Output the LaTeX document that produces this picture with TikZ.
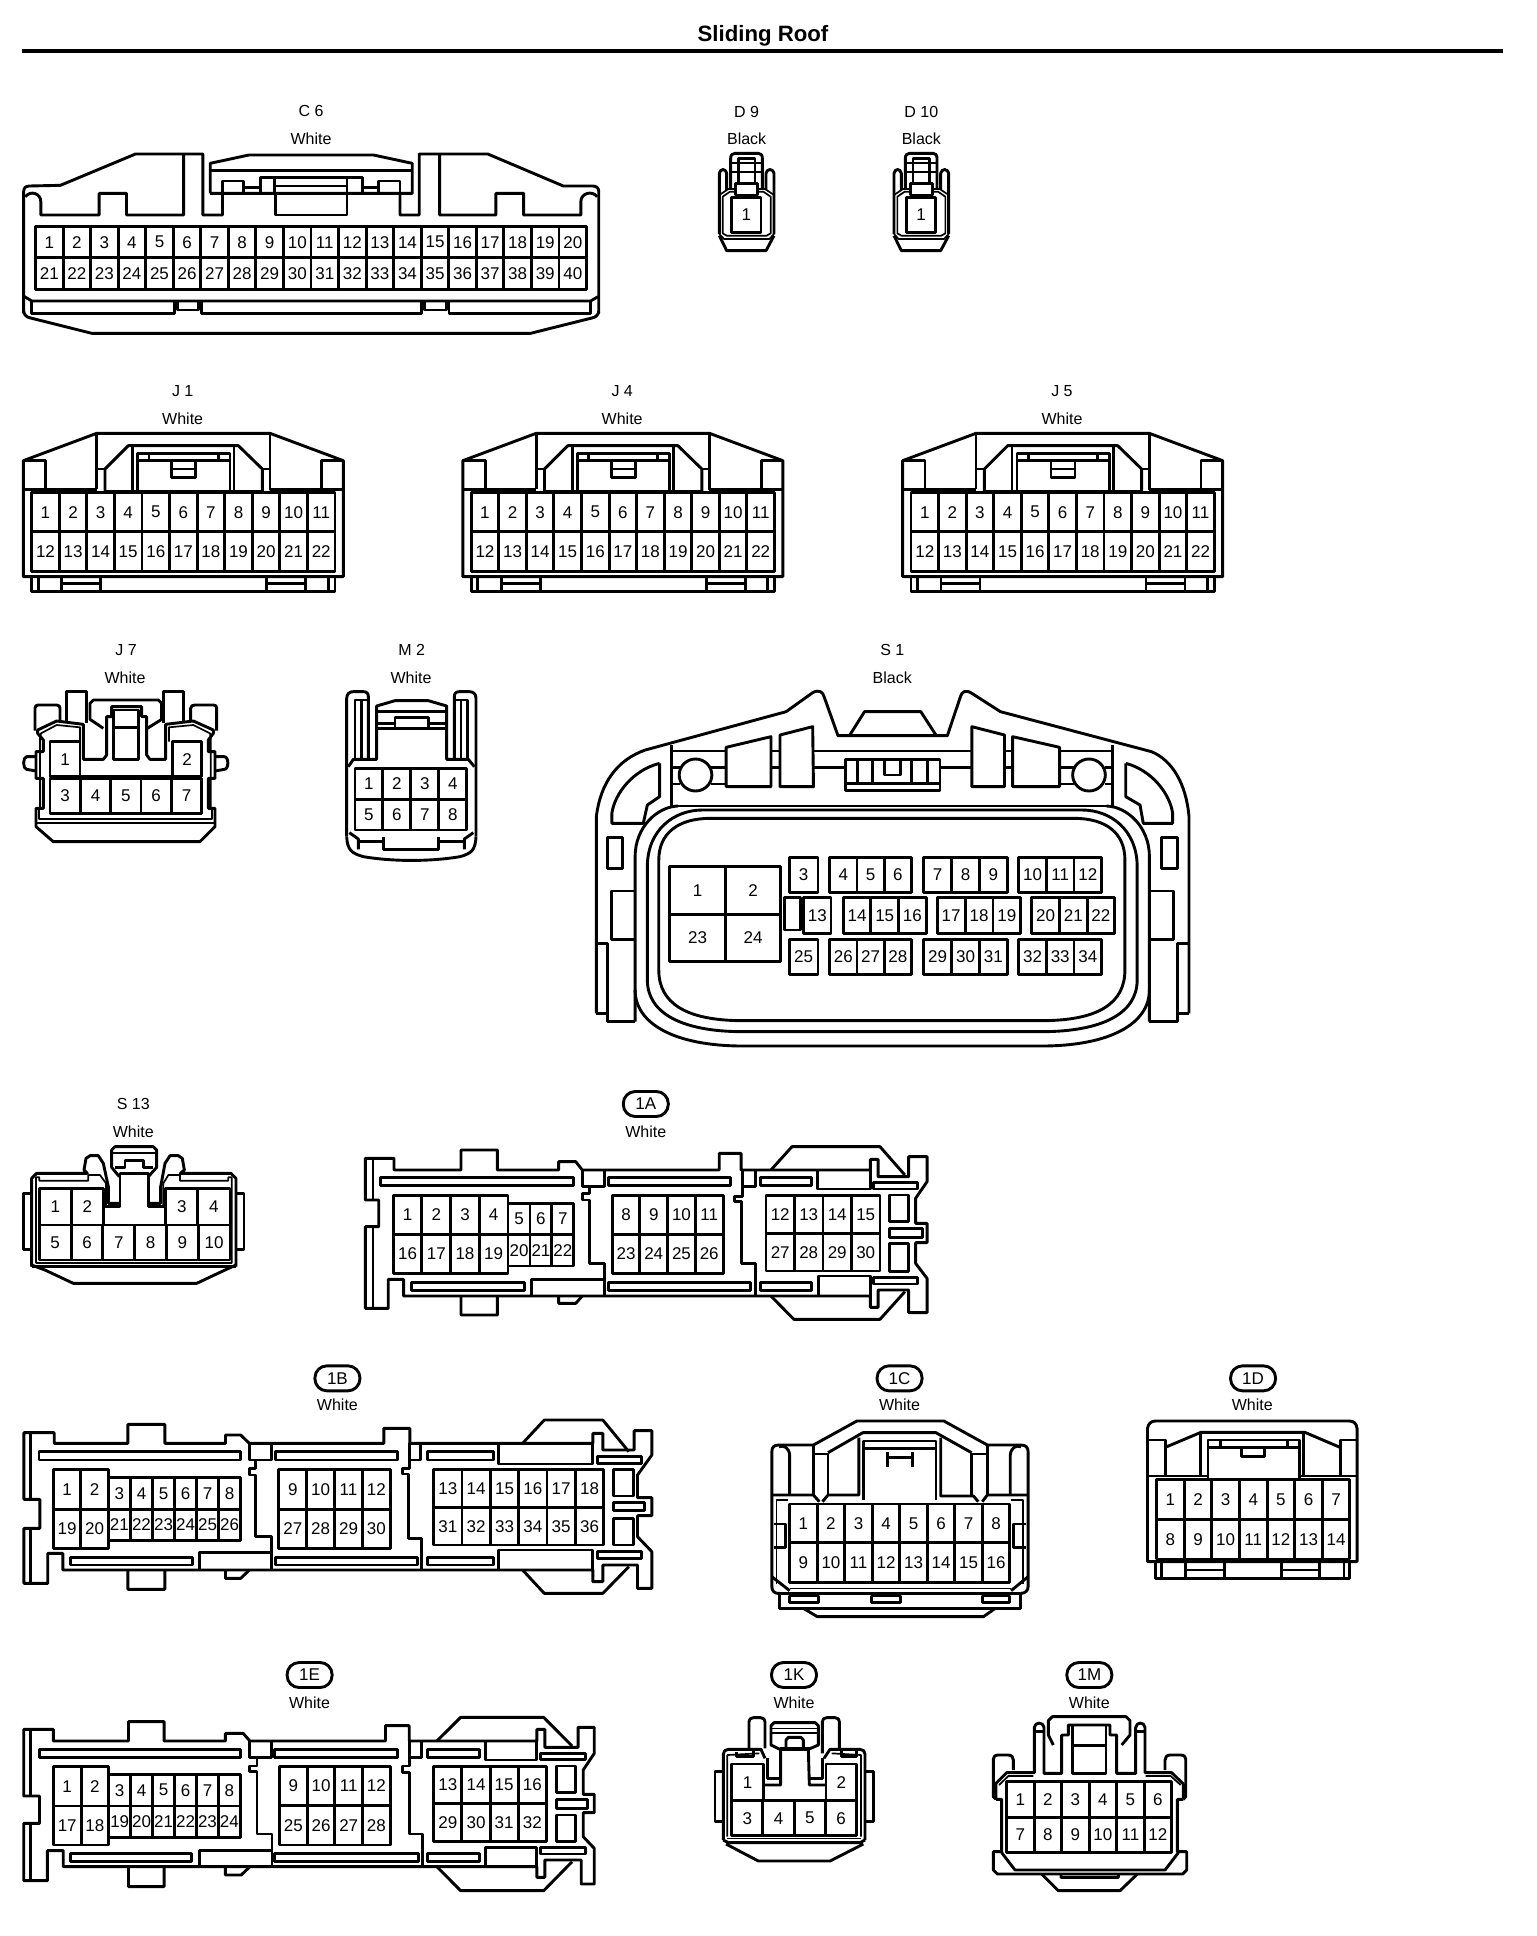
\documentclass[tikz,border=0pt]{standalone}
\usepackage{fontspec}
\setmainfont{Liberation Sans}
\newcounter{nodec}
\tikzset{
  x=0.5pt,y=-0.5pt,
  every path/.append style={line width=1.45pt,line join=round},
  zoomed/.style 2 args={shift={({(#1)*0.5pt},{-(#2)*0.5pt})},x=0.166667pt,y=-0.166667pt},
  zoomw/.style n args={3}{shift={({(#1)*0.5pt},{-(#2)*0.5pt})},x=#3pt,y=-0.166667pt},
  dbl/.style={line width=0.85pt},
  pinlabel/.style={font=\fontsize{8.5}{9}\selectfont,inner sep=0pt},
  clabel/.style={font=\fontsize{8}{9}\selectfont,inner sep=0pt},
  capsule/.style={draw,font=\fontsize{8.5}{9}\selectfont,inner sep=0pt,minimum width=22.5pt,minimum height=12.5pt,rounded corners=6pt,line width=1.45pt},
}
\newcommand\pinrow[6]{%
  \pgfmathsetmacro\pw{(#2-#1)/#5}%
  \foreach \k in {1,...,#5}{%
    \pgfmathsetmacro\xa{#1+(\k-1)*\pw}%
    \pgfmathsetmacro\xb{#1+\k*\pw}%
    \pgfmathtruncatemacro\lab{#6+\k-1}%
    \stepcounter{nodec}%
    \draw (\xa,#3) rectangle (\xb,#4);
    \node[pinlabel] (pin\arabic{nodec}) at ({(\xa+\xb)/2},{(#3+#4)/2}) {\lab};
  }%
}
\newcommand\txt[3]{\stepcounter{nodec}\node[clabel] (lab\arabic{nodec}) at (#1,#2) {#3};}
\newcommand\capl[3]{\stepcounter{nodec}\node[capsule] (cap\arabic{nodec}) at (#1,#2) {#3};}
\newcommand\slot[4]{\draw (#1,#2) rectangle (#3,#4);}
\newcommand\dconn[2]{%
\begin{scope}[zoomed={#1}{90}]
  \txt{200}{65}{#2}\txt{200}{147}{Black}
  \draw (152,295) -- (152,205) .. controls (152,195) and (157,190) .. (165,190) -- (235,190) .. controls (243,190) and (247,195) .. (247,205) -- (247,295);
  \draw (175,280) -- (175,205) -- (225,205) -- (225,280);
  \draw[dbl] (152,218) -- (247,218) (152,245) -- (247,245);
  \draw (140,300) -- (140,250) .. controls (138,235) and (120,235) .. (118,250) -- (118,432);
  \draw (258,300) -- (258,250) .. controls (260,235) and (280,235) .. (282,250) -- (282,432);
  \draw[dbl] (118,315) -- (145,297) -- (167,297) (233,297) -- (255,297) -- (282,315);
  \draw[dbl] (167,305) -- (150,305) -- (128,320) -- (128,430) -- (140,437) -- (260,437) -- (272,430) -- (272,320) -- (250,305) -- (233,305);
  \draw (167,280) rectangle (233,315);
  \draw[dbl] (118,432) -- (132,447) -- (268,447) -- (282,432);
  \draw (118,437) -- (140,482) -- (258,482) -- (282,437);
  \pinrow{155}{243}{323}{427}{1}{1}
\end{scope}}
\newcommand\jconn[2]{%
\begin{scope}[zoomed={#1}{380}]
  \txt{548}{33}{#2}\txt{548}{116}{White}
  \draw (70,590) -- (70,242) -- (290,160) -- (810,160) -- (1030,242) -- (1030,590) -- cycle;
  \draw (70,242) -- (137,242) -- (137,328) (1030,242) -- (965,242) -- (965,328);
  \draw (70,328) -- (290,328) (290,165) -- (290,328) (290,267) -- (315,267) (810,165) -- (810,328) -- (1030,328) (787,267) -- (810,267);
  \draw (315,335) -- (315,267) -- (385,197) -- (715,197) -- (787,267) -- (787,335);
  \draw (398,197) -- (398,330) (702,197) -- (702,330);
  \draw (413,335) -- (413,220) -- (690,220) -- (690,335) (315,335) -- (787,335);
  \draw (413,242) -- (690,242) (447,220) -- (447,242) (655,220) -- (655,242);
  \draw (515,242) -- (515,292) -- (587,292) -- (587,242) (515,267) -- (587,267);
  \pinrow{95}{1005}{338}{455}{11}{1}
  \pinrow{95}{1005}{455}{575}{11}{12}
  \draw (95,590) rectangle (1005,635);
  \draw (115,590) -- (115,635) (185,590) -- (185,635) (302,590) -- (302,635) (800,590) -- (800,635) (917,590) -- (917,635) (985,590) -- (985,635);
  \draw (185,610) -- (302,610) (800,610) -- (917,610);
\end{scope}}
\begin{document}
\begin{tikzpicture}
\useasboundingbox (0,0) rectangle (1536,1936);
\fill[white] (0,0) rectangle (1536,1936);
\node[font=\bfseries\fontsize{11.1}{12}\selectfont,inner sep=0pt] (title) at (763,36) {Sliding Roof};
\draw[line width=1.9pt] (22,51) -- (1503,51);

% C6
\begin{scope}[zoomw={0}{80}{0.20408}]
  \txt{762}{93}{C 6}\txt{762}{177}{White}
  \draw (58,700) -- (58,335) .. controls (58,325) and (62,318) .. (72,318) -- (148,316) -- (332,222) -- (497,222) -- (497,405) -- (545,405) -- (545,340);
  \draw (980,340) -- (980,405) -- (1027,405) -- (1027,222) -- (1195,222) -- (1380,318) -- (1452,318) .. controls (1462,318) and (1467,325) .. (1467,335) -- (1467,700);
  \draw (515,340) -- (515,250) -- (610,225) -- (915,225) -- (1010,250) -- (1010,340) -- (515,340);
  \draw (515,272) -- (1010,272);
  \draw (545,303) rectangle (597,340) (928,303) rectangle (980,340);
  \draw (638,340) -- (638,292) -- (888,292) -- (888,340) (672,292) -- (672,340) (850,292) -- (850,340);
  \draw (672,318) -- (850,318) (597,322) -- (638,322) (888,322) -- (928,322);
  \draw (675,340) -- (675,405) -- (850,405) -- (850,340);
  \draw (450,222) -- (450,405) -- (310,405) -- (310,340) -- (243,340) -- (243,405) -- (100,405) -- (100,365) .. controls (100,340) and (75,330) .. (62,350);
  \draw (1077,222) -- (1077,405) -- (1215,405) -- (1215,340) -- (1283,340) -- (1283,405) -- (1423,405) -- (1423,365) .. controls (1423,340) and (1450,330) .. (1463,350);
  \pinrow{87}{1437}{440}{533}{20}{1}
  \pinrow{87}{1437}{533}{628}{20}{21}
  \draw (60,650) -- (78,663) -- (1447,663) -- (1465,650);
  \draw (78,663) -- (78,700) -- (427,700) -- (427,663) (493,663) -- (493,700) -- (1033,700) -- (1033,663) (1100,663) -- (1100,700) -- (1447,700) -- (1447,663);
  \draw (435,663) -- (435,690) -- (487,690) -- (487,663) (1040,663) -- (1040,690) -- (1093,690) -- (1093,663);
  \draw (58,695) .. controls (60,705) and (65,712) .. (75,714) -- (225,760) -- (1300,760) -- (1450,714) .. controls (1460,712) and (1465,705) .. (1467,695);
\end{scope}

\dconn{680}{D 9}
\dconn{854.67}{D 10}

\jconn{0}{J 1}
\jconn{439.5}{J 4}
\jconn{879.3}{J 5}

% J7 and M2
\begin{scope}[zoomed={0}{640}]
  \txt{378}{30}{J 7}\txt{375}{113}{White}
  \txt{1235}{30}{M 2}\txt{1233}{113}{White}
  \pinrow{150}{240}{305}{410}{1}{1}
  \pinrow{517}{605}{305}{410}{1}{2}
  \pinrow{150}{605}{415}{520}{5}{3}
  \draw (240,410) -- (517,410);
  \draw (108,505) -- (130,505) -- (130,415) -- (108,415) -- (108,335) -- (130,335) -- (130,300) -- (113,280) -- (113,270) -- (170,243) -- (250,253) -- (250,358) -- (310,358) -- (320,345) -- (320,230) -- (335,230) -- (335,200) -- (425,200) -- (425,230) -- (440,230) -- (440,345) -- (450,358) -- (497,358) -- (497,253) -- (580,243) -- (640,270) -- (640,280) -- (625,300) -- (625,335) -- (645,335) -- (645,415) -- (625,415) -- (625,505) -- (645,505) -- (645,560) -- (600,605) -- (160,605) -- (108,560) -- cycle;
  \draw[dbl] (120,505) -- (120,295) -- (123,280) -- (170,255) -- (240,262) -- (240,305);
  \draw[dbl] (632,505) -- (632,295) -- (630,280) -- (580,255) -- (507,262) -- (507,305);
  \draw (340,358) rectangle (415,210) (340,262) -- (415,262);
  \draw[dbl] (108,548) -- (645,548) (118,505) -- (118,538) -- (635,538) -- (635,505);
  \draw (108,350) -- (80,350) .. controls (68,350) and (68,388) .. (80,388) -- (108,393);
  \draw (645,350) -- (673,350) .. controls (687,350) and (687,388) .. (673,388) -- (645,393);
  \draw (200,243) -- (200,155) -- (260,155) -- (260,250) (490,250) -- (490,155) -- (550,155) -- (550,243);
  \draw (105,272) -- (105,205) .. controls (105,198) and (108,195) .. (115,195) -- (170,195) .. controls (178,195) and (180,200) .. (180,205) -- (180,243);
  \draw (572,243) -- (572,205) .. controls (572,198) and (578,195) .. (585,195) -- (640,195) .. controls (647,195) and (650,198) .. (650,205) -- (650,272);
  \draw (310,265) -- (270,238) -- (270,190) -- (280,180) -- (475,180) -- (485,190) -- (485,238) -- (442,265);
  % M2
  \pinrow{1065}{1400}{385}{478}{4}{1}
  \pinrow{1065}{1400}{478}{570}{4}{5}
  \draw (1040,590) -- (1040,175) .. controls (1040,160) and (1050,155) .. (1060,155) -- (1090,155) .. controls (1100,155) and (1105,160) .. (1105,170) -- (1105,358);
  \draw (1428,590) -- (1428,175) .. controls (1428,160) and (1418,155) .. (1408,155) -- (1378,155) .. controls (1368,155) and (1363,160) .. (1363,170) -- (1363,358);
  \draw (1065,360) -- (1065,180) -- (1105,180) (1085,180) -- (1085,358) (1403,360) -- (1403,180) -- (1363,180) (1383,180) -- (1383,358);
  \draw (1045,380) -- (1060,358) -- (1130,358) -- (1130,198) -- (1185,182) -- (1285,182) -- (1340,198) -- (1340,358) -- (1405,358) -- (1423,380);
  \draw (1130,215) -- (1340,215) (1185,232) rectangle (1285,265);
  \draw (1130,250) -- (1185,250) (1130,265) -- (1185,265) (1285,250) -- (1340,250) (1285,265) -- (1340,265);
  \draw (1040,590) .. controls (1042,630) and (1055,640) .. (1090,650) .. controls (1180,665) and (1290,665) .. (1380,650) .. controls (1415,640) and (1426,630) .. (1428,590);
  \draw (1048,578) -- (1075,597) -- (1075,628) (1420,578) -- (1393,597) -- (1393,628);
  \draw (1075,605) -- (1150,605) (1150,590) -- (1150,628) -- (1315,628) -- (1315,590) (1315,605) -- (1393,605);
\end{scope}

% S1
\begin{scope}[zoomw={580}{670}{0.20408}]
  \txt{765}{-60}{S 1}\txt{765}{22}{Black}
  \draw (40,1030) -- (40,440) .. controls (50,340) and (90,270) .. (160,240) -- (505,125) -- (570,68) .. controls (585,58) and (595,65) .. (598,80) -- (632,197) -- (900,197) -- (932,80) .. controls (935,65) and (945,58) .. (960,70) -- (1030,125) -- (1400,245) .. controls (1450,270) and (1485,340) .. (1492,440) -- (1492,1030);
  \draw (660,197) -- (697,125) -- (835,125) -- (873,197);
  \draw (225,225) -- (225,408) -- (1305,408) -- (1305,225);
  \draw (225,243) -- (358,243) (468,243) -- (490,243) (572,243) -- (960,243) (1040,243) -- (1060,243) (1175,243) -- (1305,243);
  \draw (225,292) -- (245,292) (322,292) -- (358,292) (468,292) -- (490,292) (572,292) -- (650,292) (882,292) -- (960,292) (1040,292) -- (1060,292) (1175,292) -- (1210,292) (1285,292) -- (1305,292);
  \draw (225,342) -- (245,342) (322,342) -- (358,342) (1175,342) -- (1210,342) (1285,342) -- (1305,342);
  \draw (283,315) ellipse [x radius=40,y radius=48] (1247,315) ellipse [x radius=40,y radius=48];
  \draw (358,232) -- (468,200) -- (468,350) -- (358,350) -- cycle;
  \draw (490,195) -- (570,170) -- (572,350) -- (490,350) -- cycle;
  \draw (960,170) -- (1040,195) -- (1040,350) -- (960,350) -- cycle;
  \draw (1060,200) -- (1175,232) -- (1175,350) -- (1060,350) -- cycle;
  \draw (650,268) rectangle (882,362) (650,340) -- (882,340);
  \draw (680,268) -- (680,340) (717,268) -- (717,340) (812,268) -- (812,340) (852,268) -- (852,340);
  \draw (745,268) -- (745,315) -- (785,315) -- (785,268);
  \draw (195,280) -- (195,380) -- (165,405) -- (155,460) -- (78,460) -- (78,430) .. controls (85,370) and (130,300) .. (195,280);
  \draw (1337,280) -- (1337,380) -- (1372,405) -- (1380,460) -- (1452,460) -- (1452,430) .. controls (1445,370) and (1400,300) .. (1337,280);
  \draw (68,503) rectangle (105,595) (1425,503) rectangle (1463,595);
  \draw (135,663) -- (78,663) -- (78,808) -- (135,808);
  \draw (40,820) -- (68,820) -- (68,1055) -- (135,1055) (40,1030) -- (68,1030);
  \draw (1395,663) -- (1455,663) -- (1455,808) -- (1395,808);
  \draw (1492,820) -- (1463,820) -- (1463,1055) -- (1395,1055) (1463,1030) -- (1492,1030);
  \draw (135,1055) -- (135,560) .. controls (135,470) and (190,410) .. (240,408);
  \draw (1395,1055) -- (1395,560) .. controls (1395,470) and (1340,410) .. (1290,408);
  \draw (135,960) .. controls (135,1060) and (230,1128) .. (400,1128) -- (1130,1128) .. controls (1300,1128) and (1395,1060) .. (1395,960);
  \draw (165,590) .. controls (165,480) and (230,420) .. (300,420) -- (1230,420) .. controls (1300,420) and (1365,480) .. (1365,590) -- (1365,930) .. controls (1365,1030) and (1280,1085) .. (1130,1085) -- (400,1085) .. controls (250,1085) and (165,1030) .. (165,930) -- cycle;
  \draw (193,570) .. controls (193,490) and (240,445) .. (320,445) -- (1210,445) .. controls (1290,445) and (1335,490) .. (1335,570) -- (1335,900) .. controls (1335,1000) and (1270,1052) .. (1130,1052) -- (400,1052) .. controls (260,1052) and (193,1000) .. (193,900) -- cycle;
  \pinrow{220}{492}{590}{733}{2}{1}
  \pinrow{220}{492}{733}{875}{2}{23}
  \pinrow{513}{583}{562}{667}{1}{3}
  \pinrow{612}{812}{562}{667}{3}{4}
  \pinrow{842}{1047}{562}{667}{3}{7}
  \pinrow{1075}{1278}{562}{667}{3}{10}
  \draw (500,682) rectangle (540,780);
  \pinrow{548}{615}{682}{790}{1}{13}
  \pinrow{645}{848}{682}{790}{3}{14}
  \pinrow{875}{1080}{682}{790}{3}{17}
  \pinrow{1107}{1310}{682}{790}{3}{20}
  \pinrow{513}{583}{808}{913}{1}{25}
  \pinrow{612}{812}{808}{913}{3}{26}
  \pinrow{842}{1047}{808}{913}{3}{29}
  \pinrow{1075}{1278}{808}{913}{3}{32}
\end{scope}

% S13
\begin{scope}[zoomed={0}{1090}]
  \txt{400}{42}{S 13}\txt{400}{124}{White}
  \pinrow{118}{310}{295}{405}{2}{1}
  \pinrow{497}{690}{295}{405}{2}{3}
  \pinrow{118}{690}{405}{510}{6}{5}
  \draw (310,350) -- (360,350) -- (360,250) -- (445,250) -- (445,350) -- (497,350);
  \draw (95,530) -- (95,265) -- (110,250) -- (262,250) -- (252,240) -- (258,205) -- (270,197) -- (295,197) -- (310,220) -- (325,290) -- (325,340) -- (358,340);
  \draw (708,530) -- (708,265) -- (693,250) -- (541,250) -- (553,240) -- (547,205) -- (535,197) -- (510,197) -- (495,220) -- (482,290) -- (482,340) -- (447,340);
  \draw[dbl] (108,520) -- (108,262) -- (118,262) -- (118,272) -- (265,272) -- (265,255) -- (300,255) -- (318,280) -- (318,345);
  \draw[dbl] (695,520) -- (695,262) -- (685,262) -- (685,272) -- (540,272) -- (540,255) -- (505,255) -- (490,280) -- (490,345);
  \draw (358,260) -- (335,232) -- (335,180) -- (345,170) -- (460,170) -- (470,180) -- (470,232) -- (445,260);
  \draw[dbl] (335,190) -- (470,190);
  \draw (345,232) -- (375,232) -- (375,212) -- (430,212) -- (430,232) -- (460,232);
  \draw[dbl] (108,518) -- (695,518);
  \draw (95,530) -- (708,530);
  \draw (95,525) -- (135,540) -- (220,580) -- (590,580) -- (675,540) -- (708,525);
  \draw (95,310) -- (70,310) -- (70,478) -- (95,478) (708,310) -- (732,310) -- (732,478) -- (708,478);
\end{scope}

% 1A
\begin{scope}[zoomw={350}{1090}{0.19133}]
  \capl{773}{42}{1A}\txt{773}{125}{White}
  \draw (40,205) -- (115,205) -- (115,240) -- (290,240) -- (290,180) -- (385,180) -- (385,240) -- (545,240) -- (545,215) -- (590,215) -- (607,240) -- (965,240) -- (965,190) -- (1022,190) -- (1022,240) -- (1360,240) -- (1360,208) -- (1380,208) -- (1380,260) -- (1460,260) -- (1460,200) -- (1508,200) -- (1508,275) -- (1478,325) -- (1478,400) -- (1508,400) -- (1508,458) -- (1478,458) -- (1478,520) -- (1508,565) -- (1508,668) -- (1460,668) -- (1460,600) -- (1380,600) -- (1380,652) -- (1360,652) -- (1360,618) -- (140,618) -- (140,568) -- (100,568) -- (100,655) -- (40,655) -- (40,410) -- (75,410) -- (75,330) -- (40,330) -- cycle;
  \draw (60,205) -- (60,330) (60,410) -- (60,655);
  \draw (1100,240) -- (1155,170) -- (1385,170) -- (1450,255) (1100,618) -- (1160,688) -- (1385,688) -- (1450,605);
  \draw (290,618) -- (290,675) -- (385,675) -- (385,618) (545,618) -- (545,640) -- (590,640) -- (607,618);
  \slot{80}{263}{585}{287}\slot{675}{263}{995}{287}\slot{1072}{263}{1205}{287}
  \slot{160}{578}{455}{602}\slot{675}{578}{1047}{602}\slot{1072}{578}{1205}{602}
  \slot{1368}{278}{1483}{297}\slot{1368}{563}{1483}{582}
  \draw (607,240) -- (607,290) -- (665,290) -- (665,240) (625,290) -- (625,310) -- (607,310) -- (607,330) -- (625,330) -- (625,520) -- (665,520) -- (665,618);
  \draw (1025,240) -- (1025,290) -- (1060,290) -- (1060,240) (1025,290) -- (1025,320) -- (1005,320) -- (1005,335) -- (1022,335) -- (1022,520) -- (1060,520) -- (1060,618);
  \draw (475,618) -- (475,568) -- (665,568);
  \draw (1222,240) -- (1222,297) -- (1360,297) -- (1360,240) (1225,618) -- (1225,558) -- (1360,558) -- (1360,618);
  \slot{1410}{315}{1460}{395}\slot{1410}{460}{1460}{545}\slot{1410}{415}{1495}{442}
  \pinrow{113}{413}{317}{433}{4}{1}
  \pinrow{113}{413}{433}{550}{4}{16}
  \pinrow{413}{585}{340}{433}{3}{5}
  \pinrow{413}{585}{433}{528}{3}{20}
  \pinrow{685}{975}{317}{433}{4}{8}
  \pinrow{685}{975}{433}{550}{4}{23}
  \pinrow{1087}{1385}{317}{430}{4}{12}
  \pinrow{1087}{1385}{430}{543}{4}{27}
\end{scope}

% 1B
\begin{scope}[zoomw={0}{1370}{0.21684}]
  \capl{778}{25}{1B}\txt{778}{105}{White}
  \draw (55,188) -- (125,188) -- (125,220) -- (295,220) -- (295,163) -- (380,163) -- (380,220) -- (520,220) -- (520,195) -- (555,195) -- (575,220) -- (885,220) -- (885,175) -- (945,175) -- (945,220) -- (1367,220) -- (1367,190) -- (1390,190) -- (1390,240) -- (1462,240) -- (1462,182) -- (1503,182) -- (1503,255) -- (1470,315) -- (1470,383) -- (1503,383) -- (1503,437) -- (1470,437) -- (1470,500) -- (1503,545) -- (1503,655) -- (1470,655) -- (1470,585) -- (1390,585) -- (1390,635) -- (1367,635) -- (1367,600) -- (145,600) -- (145,550) -- (110,550) -- (110,640) -- (55,640) -- (55,475) -- (92,475) -- (92,388) -- (55,388) -- cycle;
  \draw (70,188) -- (70,388) (70,475) -- (70,640);
  \draw (1205,220) -- (1255,150) -- (1390,150) -- (1450,245) (1205,600) -- (1255,670) -- (1390,670) -- (1450,590);
  \draw (295,600) -- (295,658) -- (380,658) -- (380,600) (520,600) -- (520,625) -- (555,625) -- (575,600);
  \slot{90}{245}{555}{270}\slot{635}{245}{917}{270}\slot{985}{245}{1138}{270}
  \slot{163}{562}{443}{585}\slot{635}{562}{963}{585}\slot{985}{562}{1138}{585}
  \slot{1378}{260}{1480}{280}\slot{1378}{545}{1480}{565}
  \draw (575,220) -- (575,270) -- (625,270) -- (625,220) (590,270) -- (590,295) -- (575,295) -- (575,315) -- (590,315) -- (590,500) -- (625,500) -- (625,600);
  \draw (945,220) -- (945,270) -- (970,270) -- (970,220) (945,270) -- (945,295) -- (928,295) -- (928,312) -- (942,312) -- (942,505) -- (972,505) -- (972,600);
  \draw (460,600) -- (460,548) -- (625,548);
  \draw (1150,220) -- (1150,282) -- (1367,282) -- (1367,220) (1150,600) -- (1150,540) -- (1367,540) -- (1367,600);
  \slot{1415}{298}{1460}{378}\slot{1415}{445}{1460}{525}\slot{1415}{398}{1487}{422}
  \pinrow{123}{250}{298}{418}{2}{1}
  \pinrow{123}{250}{418}{535}{2}{19}
  \pinrow{250}{555}{323}{418}{6}{3}
  \pinrow{250}{555}{418}{512}{6}{21}
  \pinrow{643}{900}{298}{418}{4}{9}
  \pinrow{643}{900}{418}{535}{4}{27}
  \pinrow{1000}{1392}{298}{412}{6}{13}
  \pinrow{1000}{1392}{412}{525}{6}{31}
\end{scope}

% 1E
\begin{scope}[zoomw={0}{1660}{0.19770}]
  \capl{783}{45}{1E}\txt{783}{127}{White}
  \draw (60,208) -- (135,208) -- (135,243) -- (325,243) -- (325,185) -- (415,185) -- (415,243) -- (570,243) -- (570,220) -- (615,220) -- (632,243) -- (975,243) -- (975,197) -- (1035,197) -- (1035,243) -- (1358,243) -- (1358,208) -- (1378,208) -- (1378,262) -- (1462,262) -- (1462,202) -- (1503,202) -- (1503,280) -- (1475,330) -- (1475,403) -- (1503,403) -- (1503,458) -- (1475,458) -- (1475,530) -- (1503,565) -- (1503,672) -- (1470,672) -- (1470,600) -- (1378,600) -- (1378,652) -- (1358,652) -- (1358,620) -- (160,620) -- (160,572) -- (120,572) -- (120,662) -- (60,662) -- (60,490) -- (100,490) -- (100,408) -- (60,408) -- cycle;
  \draw (78,208) -- (78,408) (78,490) -- (78,662);
  \draw (1105,243) -- (1165,172) -- (1375,172) -- (1447,258) (1105,620) -- (1165,692) -- (1375,692) -- (1447,605);
  \draw (325,620) -- (325,680) -- (415,680) -- (415,620) (570,620) -- (570,645) -- (610,645) -- (632,620);
  \slot{100}{268}{608}{292}\slot{695}{268}{1005}{292}\slot{1082}{268}{1212}{292}
  \slot{178}{580}{485}{604}\slot{695}{580}{1058}{604}\slot{1082}{580}{1212}{604}
  \slot{1367}{280}{1480}{298}\slot{1367}{563}{1480}{582}
  \draw (632,243) -- (632,292) -- (687,292) -- (687,243) (650,292) -- (650,318) -- (632,318) -- (632,335) -- (650,335) -- (650,522) -- (688,522) -- (688,620);
  \draw (1035,243) -- (1035,292) -- (1065,292) -- (1065,243) (1035,292) -- (1035,318) -- (1017,318) -- (1017,337) -- (1035,337) -- (1035,522) -- (1068,522) -- (1068,620);
  \draw (505,620) -- (505,572) -- (688,572);
  \draw (1228,243) -- (1228,300) -- (1358,300) -- (1358,243) (1228,620) -- (1228,562) -- (1358,562) -- (1358,620);
  \slot{1408}{318}{1455}{398}\slot{1408}{465}{1455}{545}\slot{1408}{418}{1487}{445}
  \pinrow{135}{275}{320}{438}{2}{1}
  \pinrow{135}{275}{438}{555}{2}{17}
  \pinrow{275}{608}{343}{438}{6}{3}
  \pinrow{275}{608}{438}{532}{6}{19}
  \pinrow{707}{987}{320}{436}{4}{9}
  \pinrow{707}{987}{436}{555}{4}{25}
  \pinrow{1097}{1382}{320}{430}{4}{13}
  \pinrow{1097}{1382}{430}{545}{4}{29}
\end{scope}

% 1C 1D
\begin{scope}[zoomw={760}{1360}{0.19770}]
  \capl{353}{55}{1C}\txt{353}{135}{White}
  \capl{1247}{55}{1D}\txt{1245}{135}{White}
  \draw (50,700) -- (45,700) .. controls (35,700) and (30,690) .. (30,680) -- (30,275) .. controls (30,262) and (35,255) .. (47,255) -- (135,255) -- (245,183) -- (465,183) -- (575,255) -- (660,255) .. controls (672,255) and (678,262) .. (678,275) -- (678,680) .. controls (678,690) and (672,700) .. (660,700);
  \draw (50,700) rectangle (658,745);
  \draw[dbl] (75,685) -- (635,685);
  \draw (110,745) -- (145,770) -- (565,770) -- (595,745);
  \slot{75}{708}{147}{728}\slot{283}{708}{355}{728}\slot{562}{708}{632}{728}
  \draw (75,405) -- (75,285) .. controls (73,262) and (60,255) .. (48,260) (633,405) -- (633,285) .. controls (635,262) and (648,255) .. (660,260);
  \draw (135,255) -- (135,405) (575,255) -- (575,405);
  \draw (135,282) -- (172,282) -- (172,405) (535,405) -- (535,282) -- (575,282);
  \draw (172,278) -- (260,218) -- (445,218) -- (535,278);
  \draw (250,233) -- (250,405) -- (172,405) -- (158,425) (457,233) -- (457,408) -- (540,408) -- (552,425);
  \draw (262,420) -- (262,243) -- (445,243) -- (445,420) (262,265) -- (445,265);
  \draw (322,275) -- (322,320) (385,275) -- (385,320) (322,293) -- (385,293);
  \draw (30,405) -- (135,405) -- (150,425) (678,405) -- (575,405) -- (562,425);
  \draw[dbl] (42,672) -- (42,420) -- (72,420) (665,672) -- (665,420) -- (635,420);
  \draw (35,492) -- (65,492) -- (65,562) -- (35,562) (672,492) -- (642,492) -- (642,562) -- (672,562);
  \draw (30,650) -- (75,692) (678,650) -- (635,692);
  \pinrow{75}{632}{432}{548}{8}{1}
  \pinrow{75}{632}{548}{668}{8}{9}
  % 1D
  \draw (980,605) -- (980,205) .. controls (982,190) and (990,183) .. (1000,183) -- (1490,183) .. controls (1502,183) and (1508,190) .. (1510,205) -- (1510,605) -- cycle;
  \draw (980,240) -- (1025,240) -- (1025,348) (1510,240) -- (1467,240) -- (1467,348);
  \draw (1025,262) -- (1115,217) -- (1378,217) -- (1467,262);
  \draw (980,348) -- (1133,348) (1365,348) -- (1510,348) (1115,217) -- (1115,348) (1375,217) -- (1375,348);
  \draw (1133,355) -- (1133,240) -- (1365,240) -- (1365,355) (1133,262) -- (1365,262) (1165,240) -- (1165,262) (1335,240) -- (1335,262);
  \draw (1217,262) -- (1217,290) -- (1277,290) -- (1277,262);
  \pinrow{1003}{1492}{358}{478}{7}{1}
  \pinrow{1003}{1492}{478}{597}{7}{8}
  \draw (1000,605) rectangle (1492,655);
  \draw (1015,605) -- (1015,655) (1075,605) -- (1075,655) (1175,605) -- (1175,655) (1318,605) -- (1318,655) (1415,605) -- (1415,655) (1477,605) -- (1477,655);
  \draw (1075,630) -- (1175,630) (1318,630) -- (1415,630);
\end{scope}

% 1K 1M
\begin{scope}[zoomed={700}{1660}]
  \capl{282}{45}{1K}\txt{282}{127}{White}
  \capl{1168}{45}{1M}\txt{1168}{127}{White}
  \pinrow{95}{190}{312}{422}{1}{1}
  \pinrow{378}{470}{312}{422}{1}{2}
  \pinrow{95}{470}{422}{527}{4}{3}
  \draw (70,540) -- (70,282) .. controls (70,274) and (76,268) .. (85,268) -- (183,268) -- (195,295) (495,540) -- (495,282) .. controls (495,274) and (489,268) .. (480,268) -- (390,268) -- (372,295);
  \draw[dbl] (82,530) -- (82,285) -- (178,280) (483,530) -- (483,285) -- (395,280);
  \draw[dbl] (82,535) -- (483,535);
  \draw (70,540) -- (85,548) -- (480,548) -- (495,540);
  \draw (78,552) -- (175,603) -- (390,603) -- (490,552);
  \draw (110,275) -- (110,290) -- (160,290) -- (160,270) (425,270) -- (425,290) -- (470,290) -- (470,270);
  \draw (190,375) -- (242,375) -- (242,268) -- (325,268) -- (328,375) -- (378,375);
  \draw (203,295) -- (203,355) -- (240,355) (330,355) -- (368,355) -- (368,295);
  \draw (147,265) -- (147,185) .. controls (147,178) and (152,173) .. (160,173) -- (182,173) .. controls (190,173) and (195,178) .. (195,185) -- (195,265);
  \draw (367,280) -- (367,185) .. controls (367,178) and (372,173) .. (380,173) -- (405,173) .. controls (414,173) and (418,178) .. (418,185) -- (418,265);
  \draw (240,268) -- (213,255) -- (213,197) -- (222,188) -- (346,188) -- (355,197) -- (355,255) -- (325,268);
  \draw[dbl] (213,205) -- (355,205) (213,218) -- (355,218);
  \draw (258,262) -- (258,240) -- (265,232) -- (303,232) -- (310,240) -- (310,262);
  \draw[dbl] (240,262) -- (330,262);
  \draw (70,335) -- (45,335) -- (45,485) -- (70,485) (495,335) -- (520,335) -- (520,485) -- (495,485);
  % 1M
  \pinrow{920}{1415}{365}{472}{6}{1}
  \pinrow{920}{1415}{472}{578}{6}{7}
  \draw (888,418) -- (880,410) -- (880,297) .. controls (880,290) and (885,285) .. (895,285) -- (925,285) .. controls (935,285) and (940,292) .. (940,300) -- (940,330);
  \draw (1450,418) -- (1457,410) -- (1457,297) .. controls (1457,290) and (1452,285) .. (1442,285) -- (1410,285) .. controls (1400,285) and (1395,292) .. (1395,300) -- (1395,330);
  \draw (888,418) -- (888,370) -- (920,338) -- (1003,338) -- (1003,202) .. controls (1005,185) and (1030,185) .. (1032,202) -- (1032,340) -- (1085,340) -- (1085,225) -- (1105,225) -- (1105,195) -- (1230,195) -- (1230,225) -- (1250,225) -- (1250,340) -- (1307,340) -- (1307,202) .. controls (1309,185) and (1333,185) .. (1335,202) -- (1335,338) -- (1415,338) -- (1450,372) -- (1450,418);
  \draw[dbl] (897,375) -- (925,348) -- (1000,348) (1337,348) -- (1412,348) -- (1442,375);
  \draw (1060,255) -- (1045,225) -- (1045,182) -- (1057,170) -- (1278,170) -- (1290,182) -- (1290,225) -- (1265,255);
  \draw (1118,340) rectangle (1218,195) (1118,257) -- (1218,257);
  \draw (1007,215) -- (1030,215) (1310,215) -- (1333,215);
  \draw (888,418) -- (905,418) -- (905,575) -- (880,575) -- (880,630) -- (892,642) -- (1448,642) -- (1460,630) -- (1460,575) -- (1432,575) -- (1432,418) -- (1450,418);
  \draw (905,578) -- (945,630) -- (1395,630) -- (1435,578);
  \draw (1025,642) -- (1075,692) -- (1260,692) -- (1312,642) (1083,642) -- (1083,652) -- (1255,652) -- (1255,642);
\end{scope}
\end{tikzpicture}
\end{document}
